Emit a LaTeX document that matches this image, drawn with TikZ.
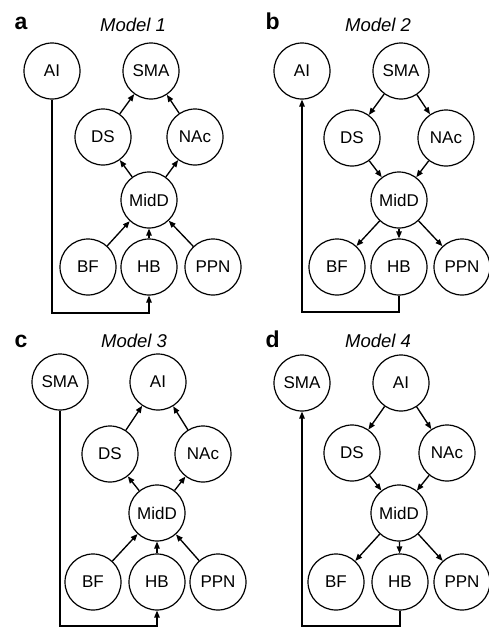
\documentclass[tikz,border=0pt]{standalone}
\usepackage{fontspec}
\setmainfont{Liberation Sans}
\usetikzlibrary{arrows.meta}
\tikzset{
  region/.style={circle,draw,line width=1.2pt,minimum size=56pt,inner sep=0pt,
    font=\fontsize{17}{20}\selectfont},
  conn/.style={line width=1.35pt,-{Triangle[length=7pt,width=5.5pt]}},
  panel/.style={anchor=base west,font=\fontsize{23}{26}\selectfont\bfseries},
  model/.style={anchor=base,font=\fontsize{18.5}{21}\selectfont\itshape}
}
\begin{document}
\begin{tikzpicture}[x=1pt,y=-1pt]
\useasboundingbox (0,0) rectangle (488,627);
% ---------- panel a ----------
\node[panel] (la) at (11,29) {a};
\node[model] (ma) at (133,31) {Model 1};
\node[region] (aAI) at (52,71) {AI};
\node[region] (aSMA) at (151,71) {SMA};
\node[region] (aDS) at (103,137) {DS};
\node[region] (aNAc) at (195,137) {NAc};
\node[region] (aMidD) at (149,200) {MidD};
\node[region] (aBF) at (88,267) {BF};
\node[region] (aHB) at (149,267) {HB};
\node[region] (aPPN) at (213,267) {PPN};
\coordinate (aC1) at (52,313);
\coordinate (aC2) at (149,313);
\draw[conn] (aDS) -- (aSMA);
\draw[conn] (aNAc) -- (aSMA);
\draw[conn] (aMidD) -- (aDS);
\draw[conn] (aMidD) -- (aNAc);
\draw[conn] (aBF) -- (aMidD);
\draw[conn] (aHB) -- (aMidD);
\draw[conn] (aPPN) -- (aMidD);
\draw[conn] (aAI.south) -- (aC1) -- (aC2) -- (aHB.south);
% ---------- panel b ----------
\node[panel] (lb) at (262,29) {b};
\node[model] (mb) at (378,31) {Model 2};
\node[region] (bAI) at (302,71) {AI};
\node[region] (bSMA) at (401,71) {SMA};
\node[region] (bDS) at (352,138) {DS};
\node[region] (bNAc) at (446,138) {NAc};
\node[region] (bMidD) at (399,200) {MidD};
\node[region] (bBF) at (337,267) {BF};
\node[region] (bHB) at (399,267) {HB};
\node[region] (bPPN) at (462,267) {PPN};
\coordinate (bC1) at (399,312);
\coordinate (bC2) at (302,312);
\draw[conn] (bSMA) -- (bDS);
\draw[conn] (bSMA) -- (bNAc);
\draw[conn] (bDS) -- (bMidD);
\draw[conn] (bNAc) -- (bMidD);
\draw[conn] (bMidD) -- (bBF);
\draw[conn] (bMidD) -- (bHB);
\draw[conn] (bMidD) -- (bPPN);
\draw[conn] (bHB.south) -- (bC1) -- (bC2) -- (bAI.south);
% ---------- panel c ----------
\node[panel] (lc) at (11,347) {c};
\node[model] (mc) at (134,347) {Model 3};
\node[region] (cSMA) at (60,382) {SMA};
\node[region] (cAI) at (158,382) {AI};
\node[region] (cDS) at (110,454) {DS};
\node[region] (cNAc) at (203,454) {NAc};
\node[region] (cMidD) at (157,513) {MidD};
\node[region] (cBF) at (93,582) {BF};
\node[region] (cHB) at (157,582) {HB};
\node[region] (cPPN) at (218,582) {PPN};
\coordinate (cC1) at (60,626);
\coordinate (cC2) at (157,626);
\draw[conn] (cDS) -- (cAI);
\draw[conn] (cNAc) -- (cAI);
\draw[conn] (cMidD) -- (cDS);
\draw[conn] (cMidD) -- (cNAc);
\draw[conn] (cBF) -- (cMidD);
\draw[conn] (cHB) -- (cMidD);
\draw[conn] (cPPN) -- (cMidD);
\draw[conn] (cSMA.south) -- (cC1) -- (cC2) -- (cHB.south);
% ---------- panel d ----------
\node[panel] (ld) at (262,347) {d};
\node[model] (md) at (378,347) {Model 4};
\node[region] (dSMA) at (302,383) {SMA};
\node[region] (dAI) at (401,383) {AI};
\node[region] (dDS) at (352,453) {DS};
\node[region] (dNAc) at (447,453) {NAc};
\node[region] (dMidD) at (399,513) {MidD};
\node[region] (dBF) at (336,582) {BF};
\node[region] (dHB) at (400,582) {HB};
\node[region] (dPPN) at (462,582) {PPN};
\coordinate (dC1) at (400,626);
\coordinate (dC2) at (302,626);
\draw[conn] (dAI) -- (dDS);
\draw[conn] (dAI) -- (dNAc);
\draw[conn] (dDS) -- (dMidD);
\draw[conn] (dNAc) -- (dMidD);
\draw[conn] (dMidD) -- (dBF);
\draw[conn] (dMidD) -- (dHB);
\draw[conn] (dMidD) -- (dPPN);
\draw[conn] (dHB.south) -- (dC1) -- (dC2) -- (dSMA.south);
\end{tikzpicture}
\end{document}
